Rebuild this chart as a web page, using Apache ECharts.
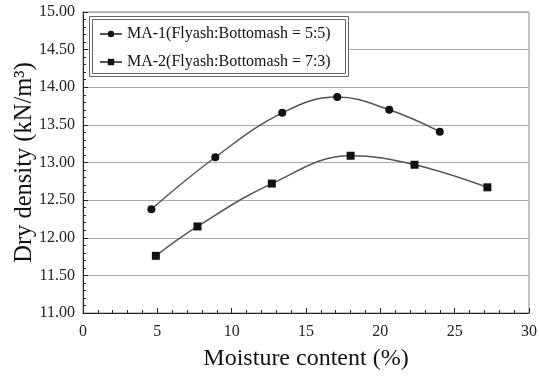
<!DOCTYPE html>
<html>
<head>
<meta charset="utf-8">
<script src="https://cdn.jsdelivr.net/npm/echarts@6/dist/echarts.min.js"></script>
<style>html,body{margin:0;padding:0;background:#fff;}#c{width:539px;height:376px;}</style>
</head>
<body>
<div id="c"></div>
<script>
var seriesNames = ['MA-1(Flyash:Bottomash = 5:5)', 'MA-2(Flyash:Bottomash = 7:3)'];
var ma1 = [[4.6, 12.38], [8.9, 13.07], [13.4, 13.66], [17.1, 13.87], [20.6, 13.70], [24.0, 13.41]];
var ma2 = [[4.9, 11.76], [7.7, 12.15], [12.7, 12.72], [18.0, 13.09], [22.3, 12.97], [27.2, 12.67]];
var xTitle = 'Moisture content (%)';
var yTitle = 'Dry density (kN/m\u00B3)';

var font = '"Liberation Serif", "Times New Roman", serif';
var chart = echarts.init(document.getElementById('c'), null, {renderer: 'canvas'});
chart.setOption({
  animation: false,
  backgroundColor: '#fff',
  grid: {left: 83, right: 10, top: 12, bottom: 63, show: true, borderColor: '#888', borderWidth: 1,
         containLabel: false, outerBoundsMode: 'none'},
  graphic: [
    {type: 'rect', shape: {x: 89.5, y: 16.5, width: 259, height: 60}, style: {fill: '#fff', stroke: '#666', lineWidth: 1}, z: 50},
    {type: 'rect', shape: {x: 92.5, y: 19.5, width: 253, height: 54}, style: {fill: 'none', stroke: '#666', lineWidth: 1}, z: 51}
  ],
  legend: {
    orient: 'vertical', left: 94, top: 21, itemGap: 12, itemWidth: 22, itemHeight: 8,
    textStyle: {fontFamily: font, fontSize: 16, color: '#111'},
    z: 60,
    data: seriesNames
  },
  xAxis: {
    type: 'value', min: 0, max: 30, interval: 5,
    name: xTitle, nameLocation: 'middle', nameGap: 34, nameMoveOverlap: false,
    nameTextStyle: {fontFamily: font, fontSize: 24, color: '#111'},
    axisLine: {show: true, lineStyle: {color: '#222', width: 1}},
    axisTick: {show: true, inside: true, length: 5, lineStyle: {color: '#222'}},
    minorTick: {show: true, splitNumber: 5, length: 3, lineStyle: {color: '#222'}},
    axisLabel: {fontFamily: font, fontSize: 16, color: '#222', margin: 11},
    splitLine: {show: false}
  },
  yAxis: {
    type: 'value', min: 11, max: 15, interval: 0.5,
    name: yTitle, nameLocation: 'middle', nameGap: 46, nameMoveOverlap: false,
    nameTextStyle: {fontFamily: font, fontSize: 24.5, color: '#111'},
    axisLine: {show: true, lineStyle: {color: '#222', width: 1}},
    axisTick: {show: true, inside: true, length: 5, lineStyle: {color: '#222'}},
    minorTick: {show: true, splitNumber: 5, length: 3, lineStyle: {color: '#222'}},
    axisLabel: {fontFamily: font, fontSize: 16, color: '#222', margin: 8, formatter: function (v) { return v.toFixed(2); }},
    splitLine: {show: true, lineStyle: {color: '#aaa', width: 1}}
  },
  series: [
    {name: seriesNames[0], type: 'line', data: ma1, smooth: 0.4, symbol: 'circle', symbolSize: 8,
     lineStyle: {color: '#555', width: 1.5}, itemStyle: {color: '#111'}},
    {name: seriesNames[1], type: 'line', data: ma2, smooth: 0.4, symbol: 'rect', symbolSize: 8,
     lineStyle: {color: '#555', width: 1.5}, itemStyle: {color: '#111'}}
  ]
});
</script>
</body>
</html>
